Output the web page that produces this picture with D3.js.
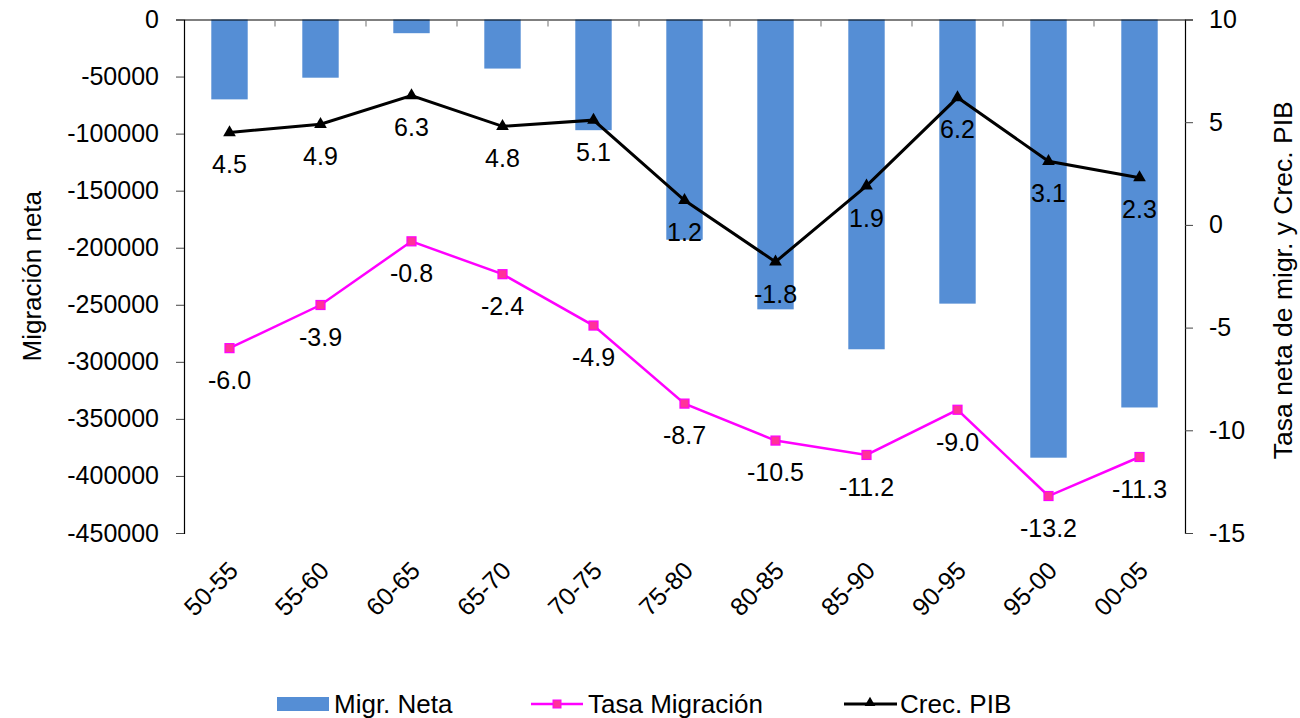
<!DOCTYPE html>
<html><head><meta charset="utf-8">
<script src="https://cdn.jsdelivr.net/npm/d3@7"></script>
<style>
body{margin:0;background:#fff;}
svg{display:block;font-family:"Liberation Sans",Arial,sans-serif;}
</style></head>
<body>
<svg id="chart" width="1300" height="718"></svg>
<script>
const categories = ["50-55","55-60","60-65","65-70","70-75","75-80","80-85","85-90","90-95","95-00","00-05"];
const migrNeta = [-70000,-51000,-12000,-43000,-97000,-193000,-254000,-289000,-249000,-384000,-340000];
const tasaMigracion = [-6.0,-3.9,-0.8,-2.4,-4.9,-8.7,-10.5,-11.2,-9.0,-13.2,-11.3];
const crecPIB = [4.5,4.9,6.3,4.8,5.1,1.2,-1.8,1.9,6.2,3.1,2.3];
const leftTicks = [0,-50000,-100000,-150000,-200000,-250000,-300000,-350000,-400000,-450000];
const rightTicks = [10,5,0,-5,-10,-15];
const seriesNames = ["Migr. Neta","Tasa Migración","Crec. PIB"];

const svg = d3.select("#chart");
const L = 184, R = 1185, T = 19.5, B = 533;

const xb = d3.scaleBand().domain(categories).range([L, R]);
const yL = d3.scaleLinear().domain([-450000, 0]).range([B, T]);
const yR = d3.scaleLinear().domain([-15, 10]).range([B, T]);
const fmt = d => String(d);
const cx = d => xb(d) + xb.bandwidth()/2;

// bars
svg.append("g").selectAll("rect").data(categories).join("rect")
  .attr("x", (d) => cx(d) - xb.bandwidth()*0.2)
  .attr("width", xb.bandwidth()*0.4)
  .attr("y", yL(0))
  .attr("height", (d,i) => yL(migrNeta[i]) - yL(0))
  .attr("fill", "#558ED5");

// left axis
const gL = svg.append("g").attr("transform", `translate(${L},0)`)
  .call(d3.axisLeft(yL).tickValues(leftTicks).tickSize(8).tickPadding(17).tickFormat(fmt));
gL.select(".domain").attr("stroke", "#000").attr("stroke-width", 1.2);
gL.selectAll(".tick line").attr("stroke", "#444");
gL.selectAll(".tick text").attr("font-size", 25).attr("fill", "#000").attr("font-family", "Liberation Sans, Arial, sans-serif");

// right axis
const gR = svg.append("g").attr("transform", `translate(${R},0)`)
  .call(d3.axisRight(yR).tickValues(rightTicks).tickSize(8).tickPadding(16).tickFormat(fmt));
gR.select(".domain").attr("stroke", "#000").attr("stroke-width", 1.2);
gR.selectAll(".tick line").attr("stroke", "#444");
gR.selectAll(".tick text").attr("font-size", 25).attr("fill", "#000").attr("font-family", "Liberation Sans, Arial, sans-serif");

// top category axis (at zero)
const gX = svg.append("g").attr("transform", `translate(0,${yL(0)})`)
  .call(d3.axisBottom(xb).tickSize(0).tickFormat(""));
gX.select(".domain").attr("stroke", "#000").attr("stroke-width", 1.2);
gX.selectAll(".tick").remove();
svg.append("g").selectAll("line").data(categories.slice(1)).join("line")
  .attr("x1", d => xb(d)).attr("x2", d => xb(d))
  .attr("y1", yL(0)).attr("y2", yL(0) + 7)
  .attr("stroke", "#888").attr("stroke-width", 1.2);

// category labels
svg.append("g").selectAll("text").data(categories).join("text")
  .attr("transform", d => `translate(${cx(d) + 4},${566}) rotate(-45)`)
  .attr("text-anchor", "end")
  .attr("dy", "0.35em")
  .attr("font-size", 25)
  .text(d => d);

// lines
const lineT = d3.line().x((d,i) => cx(categories[i])).y(d => yR(d));
svg.append("path").datum(tasaMigracion).attr("d", lineT)
  .attr("fill", "none").attr("stroke", "#FF00FF").attr("stroke-width", 2.5);
svg.append("path").datum(crecPIB).attr("d", lineT)
  .attr("fill", "none").attr("stroke", "#000").attr("stroke-width", 3);

svg.append("g").selectAll("rect").data(tasaMigracion).join("rect")
  .attr("x", (d,i) => cx(categories[i]) - 4.5)
  .attr("y", d => yR(d) - 4.5)
  .attr("width", 9).attr("height", 9)
  .attr("fill", "#FF3399").attr("stroke", "#FF00FF").attr("stroke-width", 1.2);

const tri = d3.symbol().type(d3.symbolTriangle).size(70);
svg.append("g").selectAll("path").data(crecPIB).join("path")
  .attr("transform", (d,i) => `translate(${cx(categories[i])},${yR(d)})`)
  .attr("d", tri).attr("fill", "#000");

// data labels
svg.append("g").selectAll("text").data(crecPIB).join("text")
  .attr("x", (d,i) => cx(categories[i]))
  .attr("y", d => yR(d) + 32)
  .attr("dy", "0.35em").attr("text-anchor", "middle").attr("font-size", 25)
  .text(d => d.toFixed(1));
svg.append("g").selectAll("text").data(tasaMigracion).join("text")
  .attr("x", (d,i) => cx(categories[i]))
  .attr("y", d => yR(d) + 32)
  .attr("dy", "0.35em").attr("text-anchor", "middle").attr("font-size", 25)
  .text(d => d.toFixed(1));

// axis titles
svg.append("text").attr("transform", `translate(32,${(T+B)/2}) rotate(-90)`)
  .attr("text-anchor", "middle").attr("dy", "0.35em").attr("font-size", 26).text("Migración neta");
svg.append("text").attr("transform", `translate(1283,${(T+B)/2 + 4}) rotate(-90)`)
  .attr("text-anchor", "middle").attr("dy", "0.35em").attr("font-size", 26.5).text("Tasa neta de migr. y Crec. PIB");

// legend
const lg = svg.append("g");
lg.append("rect").attr("x", 277).attr("y", 697).attr("width", 52).attr("height", 14).attr("fill", "#558ED5");
lg.append("text").attr("x", 334).attr("y", 713).attr("font-size", 26).text(seriesNames[0]);
lg.append("line").attr("x1", 531).attr("x2", 583).attr("y1", 704).attr("y2", 704).attr("stroke", "#FF00FF").attr("stroke-width", 2.5);
lg.append("rect").attr("x", 553).attr("y", 700).attr("width", 8).attr("height", 8).attr("fill", "#FF3399").attr("stroke", "#FF00FF");
lg.append("text").attr("x", 588).attr("y", 713).attr("font-size", 26).text(seriesNames[1]);
lg.append("line").attr("x1", 844).attr("x2", 897).attr("y1", 704).attr("y2", 704).attr("stroke", "#000").attr("stroke-width", 3);
lg.append("path").attr("transform", "translate(870,703)").attr("d", d3.symbol().type(d3.symbolTriangle).size(50)).attr("fill", "#000");
lg.append("text").attr("x", 900).attr("y", 713).attr("font-size", 26).text(seriesNames[2]);
</script>
</body></html>
